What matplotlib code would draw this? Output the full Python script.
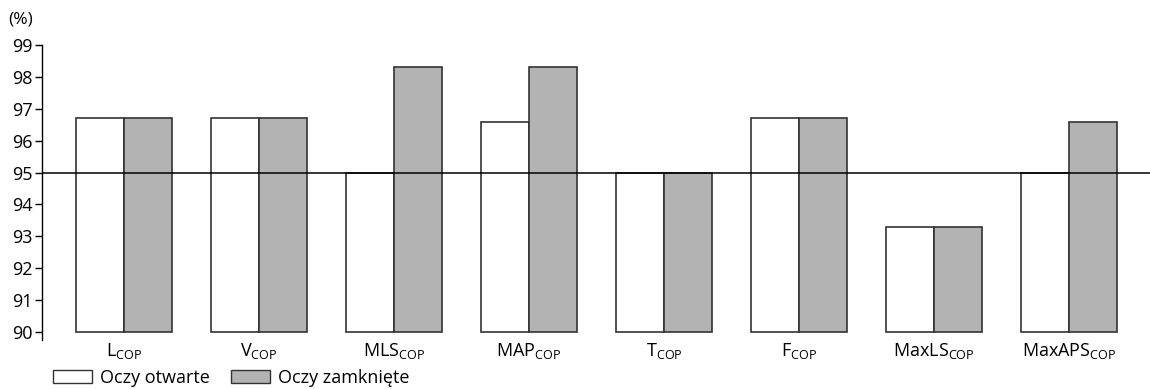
import matplotlib

matplotlib.use("Agg")
from matplotlib import pyplot as plt  # noqa: E402
from matplotlib.patches import Patch  # noqa: E402
import numpy as np  # noqa: E402

categories = ["L", "V", "MLS", "MAP", "T", "F", "MaxLS", "MaxAPS"]
eyes_open = [96.7, 96.7, 95.0, 96.6, 95.0, 96.7, 93.3, 95.0]
eyes_closed = [96.7, 96.7, 98.3, 98.3, 95.0, 96.7, 93.3, 96.6]
series_names = ["Oczy otwarte", "Oczy zamknięte"]
y_ticks = list(range(90, 100))
baseline = 90
reference_level = 95

plt.rcParams["font.family"] = ["Open Sans", "DejaVu Sans"]
plt.rcParams["font.size"] = 13

edge = "#333333"
gray = "#b3b3b3"

fig = plt.figure(figsize=(11.5, 3.89), dpi=100)
ax = fig.add_axes([42 / 1150, 49 / 389, 1108 / 1150, 295 / 389])

x = np.arange(len(categories))
width = 0.356
ax.bar(x - width / 2, np.array(eyes_open) - baseline, width, bottom=baseline,
       color="white", edgecolor=edge, linewidth=1.2, zorder=2)
ax.bar(x + width / 2, np.array(eyes_closed) - baseline, width, bottom=baseline,
       color=gray, edgecolor=edge, linewidth=1.2, zorder=2)
ax.axhline(reference_level, color="black", linewidth=1.1, zorder=3)

ax.set_xlim(-0.607, 7.6)
ax.set_ylim(89.75, 99)
ax.set_yticks(y_ticks)
ax.tick_params(axis="y", direction="out", length=5, width=1, pad=2)
ax.set_xticks(x)
ax.set_xticklabels([rf"$\mathregular{{{c}_{{COP}}}}$" for c in categories])
ax.tick_params(axis="x", length=0, pad=1)
for side in ("top", "right", "bottom"):
    ax.spines[side].set_visible(False)
ax.spines["left"].set_linewidth(1)

fig.text(8 / 1150, 1 - 20 / 389, "(%)", ha="left", va="center", fontsize=12.5)

handles = [
    Patch(facecolor="white", edgecolor=edge, linewidth=1),
    Patch(facecolor=gray, edgecolor=edge, linewidth=1),
]
fig.legend(handles, series_names, ncol=2, frameon=False,
           loc="center left", bbox_to_anchor=(53 / 1150, 1 - 378 / 389),
           handlelength=2.15, handleheight=0.72, handletextpad=0.45,
           columnspacing=1.2, borderaxespad=0, borderpad=0)

fig.savefig("out.png", dpi=100)
